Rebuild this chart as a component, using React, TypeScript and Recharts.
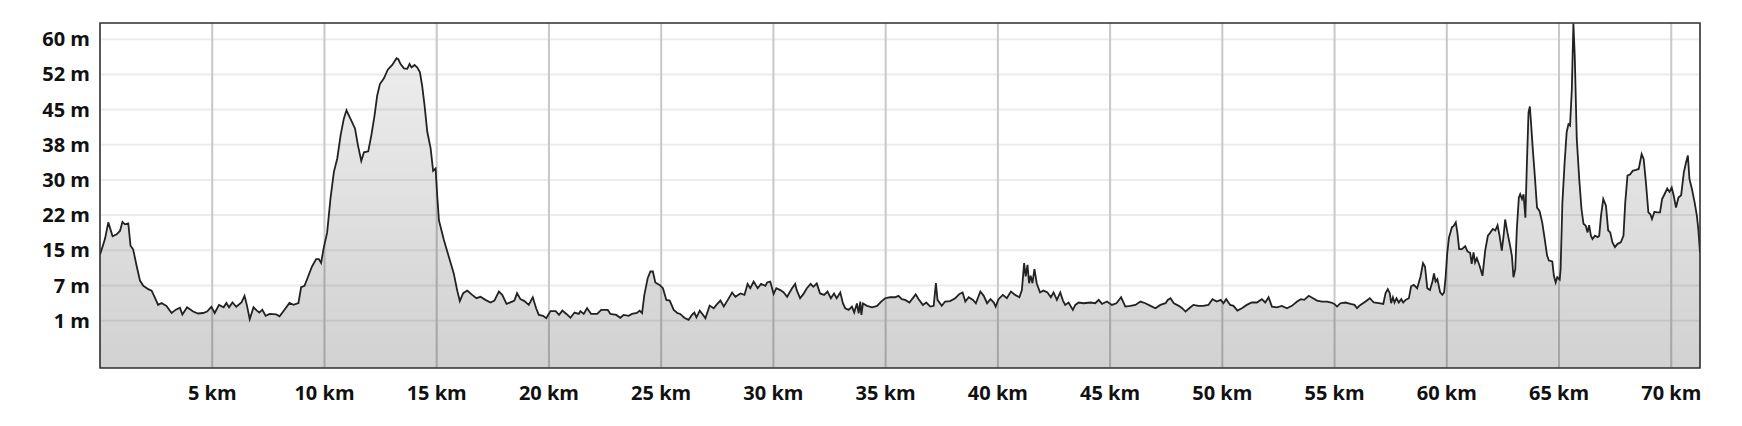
import React from "react";
import { AreaChart, Area, XAxis, YAxis, CartesianGrid, ReferenceArea } from "recharts";

// distance along route (km)
const distanceKm = [
  0, 0.22, 0.37, 0.56, 0.74, 0.89, 1.0, 1.11, 1.26, 1.36, 1.48, 1.63, 1.78, 1.93, 2.15, 2.3, 2.44, 2.59, 2.74, 2.96,
  3.19, 3.38, 3.56, 3.67, 3.88, 4.15, 4.37, 4.59, 4.77, 4.96, 5.11, 5.3, 5.51, 5.63, 5.75, 5.9, 6.07, 6.3, 6.44, 6.55,
  6.67, 6.84, 6.99, 7.1, 7.23, 7.38, 7.56, 7.85, 8.0, 8.22, 8.44, 8.62, 8.84, 8.96, 9.11, 9.26, 9.44, 9.63, 9.75, 9.85,
  9.96, 10.12, 10.27, 10.42, 10.57, 10.72, 10.86, 10.98, 11.16, 11.36, 11.49, 11.64, 11.76, 11.95, 12.09, 12.23, 12.35, 12.47, 12.65, 12.82,
  13.02, 13.21, 13.29, 13.39, 13.54, 13.69, 13.79, 13.88, 14.01, 14.13, 14.25, 14.35, 14.46, 14.58, 14.73, 14.84, 14.95, 15.03, 15.1, 15.32,
  15.54, 15.76, 15.91, 16.03, 16.18, 16.36, 16.58, 16.77, 16.95, 17.17, 17.4, 17.57, 17.77, 17.92, 18.11, 18.36, 18.46, 18.58, 18.73, 18.91,
  19.1, 19.28, 19.43, 19.55, 19.74, 19.88, 20.07, 20.3, 20.45, 20.6, 20.78, 20.96, 21.14, 21.33, 21.4, 21.55, 21.7, 21.88, 22.15, 22.33,
  22.62, 22.74, 23.0, 23.18, 23.33, 23.55, 23.7, 23.92, 24.04, 24.15, 24.25, 24.4, 24.52, 24.63, 24.74, 24.93, 25.08, 25.23, 25.38, 25.56,
  25.73, 25.85, 26.03, 26.22, 26.37, 26.48, 26.57, 26.72, 26.87, 26.97, 27.16, 27.34, 27.46, 27.64, 27.79, 27.97, 28.16, 28.31, 28.53, 28.71,
  28.85, 28.97, 29.12, 29.3, 29.45, 29.64, 29.72, 29.86, 30.01, 30.13, 30.31, 30.46, 30.61, 30.83, 30.97, 31.04, 31.19, 31.34, 31.49, 31.66,
  31.78, 31.93, 32.08, 32.26, 32.41, 32.56, 32.7, 32.82, 32.98, 33.1, 33.2, 33.35, 33.5, 33.6, 33.72, 33.8, 33.87, 33.92, 33.99, 34.17,
  34.4, 34.62, 34.8, 34.98, 35.2, 35.42, 35.57, 35.72, 35.87, 36.06, 36.34, 36.47, 36.66, 36.81, 36.99, 37.14, 37.24, 37.31, 37.5, 37.65,
  37.87, 38.1, 38.29, 38.43, 38.55, 38.7, 38.89, 39.02, 39.22, 39.37, 39.52, 39.67, 39.82, 39.9, 40.03, 40.22, 40.4, 40.58, 40.77, 40.96,
  41.07, 41.17, 41.24, 41.32, 41.39, 41.46, 41.54, 41.63, 41.73, 41.88, 42.03, 42.21, 42.36, 42.48, 42.63, 42.78, 42.9, 43.0, 43.15, 43.34,
  43.45, 43.6, 43.82, 44.12, 44.34, 44.49, 44.64, 44.86, 45.08, 45.28, 45.49, 45.68, 45.9, 46.13, 46.35, 46.57, 46.8, 47.02, 47.24, 47.47,
  47.57, 47.69, 47.84, 48.06, 48.21, 48.36, 48.55, 48.71, 48.93, 49.15, 49.38, 49.56, 49.75, 49.93, 50.05, 50.17, 50.35, 50.5, 50.67, 50.87,
  51.09, 51.31, 51.54, 51.76, 51.91, 52.06, 52.21, 52.43, 52.65, 52.88, 53.1, 53.33, 53.5, 53.65, 53.85, 54.04, 54.22, 54.44, 54.67, 54.85,
  54.99, 55.11, 55.26, 55.48, 55.71, 55.89, 56.0, 56.15, 56.38, 56.57, 56.75, 56.97, 57.17, 57.27, 57.37, 57.46, 57.52, 57.6, 57.67, 57.76,
  57.86, 57.97, 58.06, 58.16, 58.31, 58.41, 58.53, 58.68, 58.83, 58.94, 59.03, 59.13, 59.25, 59.36, 59.43, 59.5, 59.58, 59.7, 59.8, 59.88,
  59.95, 60.02, 60.1, 60.23, 60.3, 60.4, 60.47, 60.55, 60.67, 60.82, 60.92, 61.04, 61.11, 61.19, 61.26, 61.34, 61.46, 61.59, 61.71, 61.83,
  61.93, 62.05, 62.16, 62.26, 62.35, 62.45, 62.53, 62.6, 62.7, 62.82, 62.9, 62.97, 63.05, 63.12, 63.21, 63.27, 63.35, 63.42, 63.5, 63.57,
  63.64, 63.7, 63.75, 63.83, 63.92, 64.02, 64.13, 64.25, 64.35, 64.47, 64.55, 64.7, 64.77, 64.85, 64.92, 65.03, 65.07, 65.15, 65.25, 65.34,
  65.42, 65.49, 65.57, 65.64, 65.7, 65.79, 65.9, 66.0, 66.09, 66.19, 66.27, 66.34, 66.42, 66.49, 66.6, 66.72, 66.79, 66.87, 66.97, 67.09,
  67.19, 67.28, 67.38, 67.49, 67.61, 67.75, 67.87, 67.95, 68.05, 68.17, 68.28, 68.43, 68.55, 68.68, 68.77, 68.87, 68.98, 69.07, 69.14, 69.25,
  69.37, 69.5, 69.59, 69.7, 69.82, 69.92, 70.02, 70.11, 70.21, 70.32, 70.44, 70.56, 70.66, 70.74, 70.81, 70.92, 71.04, 71.14, 71.21, 71.28,
];

// elevation (m)
const elevationM = [
  14.8, 18.1, 21.6, 18.7, 19.1, 19.8, 21.7, 21.2, 21.4, 16.7, 15.9, 12.5, 9.4, 8.3, 7.6, 7.3, 5.9, 4.3, 4.7, 4.1,
  2.6, 3.3, 3.7, 2.3, 3.8, 2.9, 2.5, 2.6, 2.9, 3.9, 2.6, 4.3, 3.8, 4.7, 3.8, 4.8, 3.9, 4.8, 6.2, 4.1,
  1.3, 3.8, 3.1, 2.7, 3.3, 2.0, 2.4, 2.3, 1.9, 3.3, 4.7, 4.3, 4.7, 8.0, 8.3, 10.1, 12.3, 13.9, 13.9, 13.1,
  16.1, 19.5, 26.7, 32.2, 35.0, 39.9, 43.3, 45.1, 43.3, 41.3, 37.8, 34.5, 36.3, 36.5, 39.9, 44.0, 48.2, 50.6, 51.8, 53.6,
  54.6, 56.0, 55.8, 54.8, 53.9, 53.8, 54.8, 54.1, 54.6, 54.1, 53.1, 50.3, 46.1, 40.6, 37.1, 32.4, 32.9, 26.7, 22.0, 17.9,
  14.4, 10.9, 7.4, 5.1, 6.75, 7.3, 6.4, 5.7, 6.0, 5.35, 4.8, 5.2, 7.1, 6.4, 4.5, 5.0, 5.2, 6.75, 5.5, 5.1,
  4.3, 5.9, 3.6, 2.2, 2.0, 1.5, 3.0, 3.0, 2.2, 3.1, 2.4, 1.6, 2.7, 2.4, 3.0, 2.4, 3.6, 2.4, 2.4, 3.25,
  3.25, 2.4, 2.2, 1.6, 2.2, 2.0, 2.4, 2.6, 3.1, 2.6, 6.4, 9.9, 11.3, 11.3, 9.0, 8.5, 7.8, 5.35, 5.2, 3.25,
  2.55, 2.4, 1.6, 1.15, 2.2, 2.7, 1.7, 3.1, 2.2, 1.5, 4.15, 3.6, 4.3, 5.2, 3.95, 5.35, 6.9, 6.0, 6.7, 6.4,
  8.7, 7.8, 9.2, 7.8, 8.7, 8.3, 9.0, 9.2, 6.6, 7.8, 7.4, 6.9, 6.0, 7.8, 8.7, 7.4, 5.7, 6.6, 7.8, 8.7,
  8.1, 8.8, 6.7, 6.4, 7.1, 5.7, 6.7, 5.7, 6.9, 4.6, 3.6, 3.25, 3.95, 2.7, 4.6, 2.55, 5.0, 2.2, 4.6, 4.1,
  3.8, 4.1, 5.0, 5.7, 5.9, 5.9, 6.2, 5.5, 5.35, 4.8, 6.5, 5.5, 4.3, 4.8, 3.95, 4.1, 8.85, 5.35, 4.1, 5.0,
  5.1, 5.7, 6.6, 6.9, 5.0, 5.9, 5.35, 4.65, 7.1, 6.2, 4.65, 5.5, 4.8, 3.95, 5.5, 6.4, 5.7, 7.1, 6.4, 5.9,
  7.4, 13.05, 10.3, 12.7, 8.85, 10.4, 8.85, 11.8, 8.85, 6.9, 7.3, 6.9, 5.9, 6.9, 5.35, 6.9, 5.2, 4.3, 4.8, 3.25,
  4.3, 4.8, 4.65, 4.8, 4.65, 5.35, 4.5, 5.0, 4.3, 4.65, 5.9, 3.95, 4.1, 4.3, 5.0, 4.65, 4.1, 3.6, 4.3, 4.65,
  5.35, 5.7, 4.65, 4.1, 3.6, 2.9, 3.7, 4.3, 4.1, 4.1, 4.3, 5.5, 5.0, 5.35, 4.65, 5.5, 4.3, 4.1, 3.1, 3.6,
  4.3, 4.8, 4.8, 5.5, 4.8, 5.9, 3.95, 3.8, 4.1, 3.6, 4.1, 5.0, 5.5, 5.35, 6.2, 5.7, 5.2, 5.0, 5.0, 4.8,
  4.5, 3.95, 4.65, 4.8, 4.5, 4.3, 3.6, 4.3, 5.0, 5.7, 4.8, 4.65, 4.5, 6.75, 7.6, 6.75, 4.65, 5.9, 4.8, 5.7,
  4.8, 5.5, 4.8, 5.35, 5.7, 8.2, 8.5, 7.8, 10.25, 13.05, 12.3, 7.8, 7.4, 9.2, 10.9, 9.2, 9.7, 7.0, 6.4, 6.9,
  10.3, 15.2, 18.5, 20.6, 20.8, 21.6, 19.5, 16.0, 16.0, 16.6, 15.5, 15.2, 12.9, 15.3, 13.2, 14.1, 12.5, 10.4, 15.7, 18.8,
  19.4, 20.2, 19.9, 21.0, 18.8, 15.7, 18.8, 22.2, 19.5, 16.7, 14.6, 10.1, 11.8, 20.2, 26.8, 27.5, 26.5, 27.5, 22.6, 34.2,
  44.6, 45.9, 42.6, 37.0, 31.4, 24.7, 24.0, 21.6, 18.5, 14.6, 13.6, 13.4, 10.4, 9.0, 10.1, 9.6, 11.8, 25.8, 34.2, 40.5,
  42.2, 41.9, 49.5, 63.3, 56.5, 39.1, 30.7, 24.4, 21.3, 20.9, 19.5, 21.0, 18.8, 18.1, 18.8, 18.5, 18.8, 23.0, 26.5, 25.1,
  19.9, 19.5, 17.4, 16.4, 17.1, 17.4, 18.8, 25.8, 31.4, 31.7, 32.4, 32.6, 32.8, 35.9, 34.9, 30.0, 23.7, 23.3, 22.3, 23.8,
  23.7, 23.7, 26.5, 27.5, 28.7, 28.0, 28.9, 27.2, 24.7, 26.8, 27.3, 32.1, 34.2, 35.6, 30.7, 28.6, 25.8, 23.0, 19.9, 15.2,
];

const xTicks = [5, 10, 15, 20, 25, 30, 35, 40, 45, 50, 55, 60, 65, 70];
const yTicks = [1, 8.375, 15.75, 23.125, 30.5, 37.875, 45.25, 52.625, 60];
const yTickLabels = ["1 m", "7 m", "15 m", "22 m", "30 m", "38 m", "45 m", "52 m", "60 m"];
const xDomain: [number, number] = [0, 71.28];
const yDomain: [number, number] = [-8.93, 63.4];

const data = distanceKm.map((km, i) => ({ km, ele: elevationM[i] }));

const tickStyle = {
  fontFamily: "'Open Sans', 'Noto Sans', sans-serif",
  fontWeight: 700,
  fontSize: 20,
  fill: "#111",
};

export default function App() {
  return (
    <div style={{ position: "absolute", left: 0, top: 0, width: 1742, height: 426, background: "#fff" }}>
      <AreaChart
        width={1742}
        height={426}
        data={data}
        margin={{ top: 23, right: 42, bottom: 0, left: 0 }}
      >
        <defs>
          <linearGradient id="eleFill" x1="0" y1="0" x2="0" y2="1">
            <stop offset="0%" stopColor="#000" stopOpacity={0.06} />
            <stop offset="100%" stopColor="#000" stopOpacity={0.18} />
          </linearGradient>
        </defs>
        <CartesianGrid vertical={false} stroke="#ececec" strokeWidth={2} />
        <CartesianGrid horizontal={false} stroke="#c8c8c8" strokeWidth={2} />
        <XAxis
          type="number"
          dataKey="km"
          domain={xDomain}
          ticks={xTicks}
          allowDataOverflow
          tickFormatter={(v: number) => `${v} km`}
          tick={tickStyle}
          tickLine={false}
          axisLine={false}
          tickSize={0}
          tickMargin={18}
          height={58}
          interval={0}
        />
        <YAxis
          type="number"
          domain={yDomain}
          ticks={yTicks}
          allowDataOverflow
          tickFormatter={(_v: number, i: number) => yTickLabels[i]}
          tick={tickStyle}
          tickLine={false}
          axisLine={false}
          tickSize={0}
          tickMargin={10}
          width={100}
          interval={0}
        />
        <Area
          type="linear"
          dataKey="ele"
          stroke="#222"
          strokeWidth={1.8}
          fill="url(#eleFill)"
          fillOpacity={1}
          baseValue={yDomain[0]}
          isAnimationActive={false}
          dot={false}
          activeDot={false}
        />
        <ReferenceArea
          x1={xDomain[0]}
          x2={xDomain[1]}
          y1={yDomain[0]}
          y2={yDomain[1]}
          fill="none"
          stroke="#333"
          strokeWidth={1.5}
          ifOverflow="visible"
        />
      </AreaChart>
    </div>
  );
}
